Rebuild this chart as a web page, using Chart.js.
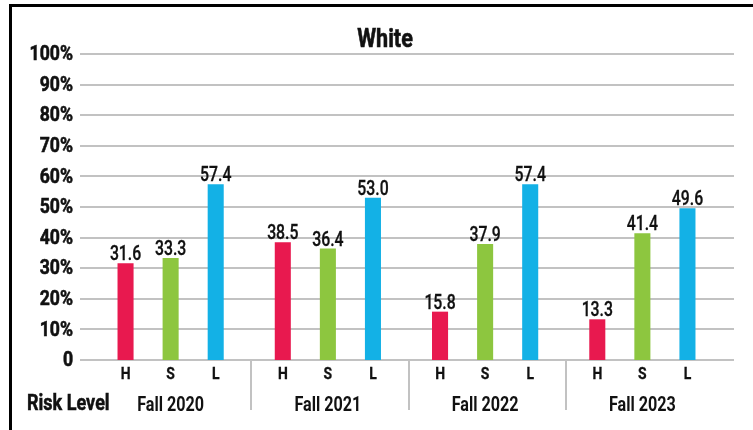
<!DOCTYPE html>
<html>
<head>
<meta charset="utf-8">
<script src="https://cdn.jsdelivr.net/npm/chart.js@4/dist/chart.umd.min.js"></script>
<style>
  html, body { margin: 0; padding: 0; background: #fff; }
  #wrap { width: 753px; height: 430px; position: relative; }
</style>
</head>
<body>
<div id="wrap"><canvas id="whiteChart" width="753" height="430"></canvas></div>
<script>
const categories = ['Fall 2020', 'Fall 2021', 'Fall 2022', 'Fall 2023'];
const riskLevels = ['H', 'S', 'L'];
const highRisk = [31.6, 38.5, 15.8, 13.3];
const someRisk = [33.3, 36.4, 37.9, 41.4];
const lowRisk = [57.4, 53.0, 57.4, 49.6];
const yTicks = [0, 10, 20, 30, 40, 50, 60, 70, 80, 90, 100];

const FONT = 'Roboto, "Liberation Sans", sans-serif';

// no condensed face installed, so squeeze the text horizontally
function narrowText(c, text, x, y, font, align, sx, heavy) {
    c.save();
    c.font = font;
    c.textAlign = align;
    c.translate(x, y);
    c.scale(sx || 0.86, 1);
    c.fillText(text, 0, 0);
    if (heavy) {
        c.strokeStyle = c.fillStyle;
        c.lineWidth = heavy;
        c.strokeText(text, 0, 0);
    }
    c.restore();
}

const decor = {
    id: 'decor',
    beforeDraw(chart) {
        const c = chart.ctx;
        c.save();
        c.fillStyle = '#fff';
        c.fillRect(0, 0, chart.width, chart.height);
        c.fillStyle = '#000';
        c.fillRect(9, 4, chart.width - 9, 3);
        c.fillRect(9, 4, 3, chart.height - 4);
        c.restore();
    },
    beforeDatasetsDraw(chart) {
        const c = chart.ctx;
        const area = chart.chartArea;
        const y = chart.scales.y;
        c.save();
        c.strokeStyle = '#c2c2c2';
        c.lineWidth = 2;
        y.ticks.forEach(t => {
            const py = Math.round(y.getPixelForValue(t.value));
            c.beginPath();
            c.moveTo(area.left - 12, py);
            c.lineTo(area.right + 13, py);
            c.stroke();
        });
        // y tick labels
        c.fillStyle = '#111';
        c.textBaseline = 'middle';
        y.ticks.forEach(t => {
            const label = t.value === 0 ? '0' : t.value + '%';
            narrowText(c, label, area.left - 19, y.getPixelForValue(t.value) + 1, 'bold 21px ' + FONT, 'right', 0.84, 0.6);
        });
        c.restore();
    },
    afterDatasetsDraw(chart) {
        const c = chart.ctx;
        const area = chart.chartArea;
        const x = chart.scales.x;
        c.save();
        c.fillStyle = '#111';
        // value labels
        c.textBaseline = 'alphabetic';
        chart.data.datasets.forEach((ds, i) => {
            chart.getDatasetMeta(i).data.forEach((bar, j) => {
                narrowText(c, ds.data[j].toFixed(1), bar.x, bar.y - 3, '500 20px ' + FONT, 'center', 0.79, 0.3);
            });
        });
        // H / S / L under each bar
        chart.data.datasets.forEach((ds, i) => {
            chart.getDatasetMeta(i).data.forEach(bar => {
                narrowText(c, riskLevels[i], bar.x, area.bottom + 19, 'bold 17px ' + FONT, 'center', 0.82, 0.3);
            });
        });
        // group names
        categories.forEach((name, j) => {
            narrowText(c, name, x.getPixelForValue(j), area.bottom + 51, 'bold 21px ' + FONT, 'center', 0.77);
        });
        narrowText(c, 'Risk Level', 27, area.bottom + 50, 'bold 22px ' + FONT, 'left', 0.82, 0.5);
        // separators between groups
        c.strokeStyle = '#c2c2c2';
        c.lineWidth = 2;
        for (let j = 0; j < categories.length - 1; j++) {
            const px = Math.round((x.getPixelForValue(j) + x.getPixelForValue(j + 1)) / 2) + 2;
            c.beginPath();
            c.moveTo(px, area.bottom);
            c.lineTo(px, area.bottom + 50);
            c.stroke();
        }
        // title
        narrowText(c, 'White', 385, 47, 'bold 26px ' + FONT, 'center', 0.83, 0.6);
        c.restore();
    }
};

new Chart(document.getElementById('whiteChart').getContext('2d'), {
    type: 'bar',
    data: {
        labels: categories,
        datasets: [
            { label: 'H', data: highRisk, backgroundColor: '#E8194F' },
            { label: 'S', data: someRisk, backgroundColor: '#8DC63F' },
            { label: 'L', data: lowRisk, backgroundColor: '#13B1E6' }
        ]
    },
    options: {
        responsive: false,
        animation: false,
        layout: { padding: { left: 12, right: 32, top: 54, bottom: 70 } },
        datasets: {
            bar: { categoryPercentage: 0.86, barPercentage: 0.356 }
        },
        scales: {
            x: { display: false },
            y: {
                min: 0,
                max: 100,
                afterFit(scale) { scale.width = 80; },
                afterBuildTicks(scale) { scale.ticks = yTicks.map(v => ({ value: v })); },
                grid: { display: false },
                border: { display: false },
                ticks: { display: false }
            }
        },
        plugins: {
            legend: { display: false },
            tooltip: { enabled: false }
        }
    },
    plugins: [decor]
});
</script>
</body>
</html>
